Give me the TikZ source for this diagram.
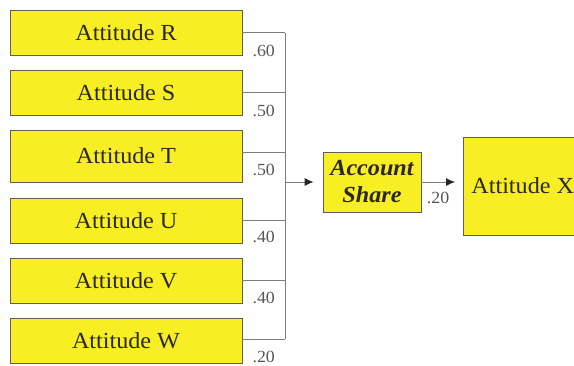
\documentclass[tikz,border=0pt]{standalone}
\usepackage{fontspec}
\setmainfont{Liberation Serif}
\newfontfamily\lab[FakeStretch=1.05]{Liberation Serif}
\usetikzlibrary{arrows.meta,calc}
\definecolor{boxyellow}{RGB}{247,238,35}
\definecolor{boxline}{RGB}{95,95,90}
\definecolor{connline}{RGB}{125,125,125}
\definecolor{txt}{RGB}{45,40,30}
\tikzset{
  attbox/.style={draw=boxline, fill=boxyellow, line width=0.8pt, minimum width=232pt, inner sep=0pt,
    font=\lab\fontsize{23}{27}\selectfont, text=txt},
  conn/.style={draw=connline, line width=0.8pt},
  arr/.style={conn, -{Latex[length=9pt,width=8pt,color=black!85]}, shorten >=9pt},
  wlabel/.style={font=\lab\fontsize{17}{19}\selectfont, text=connline!70!black, inner sep=0pt}
}
\begin{document}
\begin{tikzpicture}[x=1pt,y=-1pt]
\clip (0,0) rectangle (574,365);
\fill[white] (0,0) rectangle (574,365);
% left boxes
\node[attbox, minimum height=45pt] (R) at (126,32.5) {Attitude R};
\node[attbox, minimum height=45pt] (S) at (126,92.5) {Attitude S};
\node[attbox, minimum height=52pt] (T) at (126,156) {Attitude T};
\node[attbox, minimum height=45pt] (U) at (126,220.5) {Attitude U};
\node[attbox, minimum height=45pt] (V) at (126,280.5) {Attitude V};
\node[attbox, minimum height=45pt] (W) at (126,340.5) {Attitude W};
% bus
\coordinate (busT) at (285,32.5);
\coordinate (busB) at (285,339);
\coordinate (busM) at (285,182);
\draw[conn] (busT) -- (busB);
\draw[conn] (R.east) -- (R.east -| busT) node[wlabel, midway, below=12pt] {.60};
\draw[conn] (S.east) -- (S.east -| busT) node[wlabel, midway, below=12pt] {.50};
\draw[conn] ([yshift=4pt]T.east) -- ([yshift=4pt]T.east -| busT) node[wlabel, midway, below=12pt] {.50};
\draw[conn] (U.east) -- (U.east -| busT) node[wlabel, midway, below=10pt] {.40};
\draw[conn] (V.east) -- (V.east -| busT) node[wlabel, midway, below=11pt] {.40};
\draw[conn] ([yshift=1.5pt]W.east) -- ([yshift=1.5pt]W.east -| busT) node[wlabel, midway, below=12pt] {.20};
% account share
\node[attbox, minimum width=98pt, minimum height=60pt, align=center,
  font=\lab\fontsize{23}{27}\selectfont\bfseries\itshape] (A) at (372,182) {Account\\Share};
\draw[arr] (busM) -- (A.west);
% attitude X
\node[attbox, anchor=west, minimum width=0pt, minimum height=98pt, inner xsep=8pt] (X) at (463,186) {Attitude X};
\draw[arr, shorten >=8pt] (A.east) -- (A.east -| X.west) node[wlabel, pos=0.4, below=10pt] {.20};
\end{tikzpicture}
\end{document}
